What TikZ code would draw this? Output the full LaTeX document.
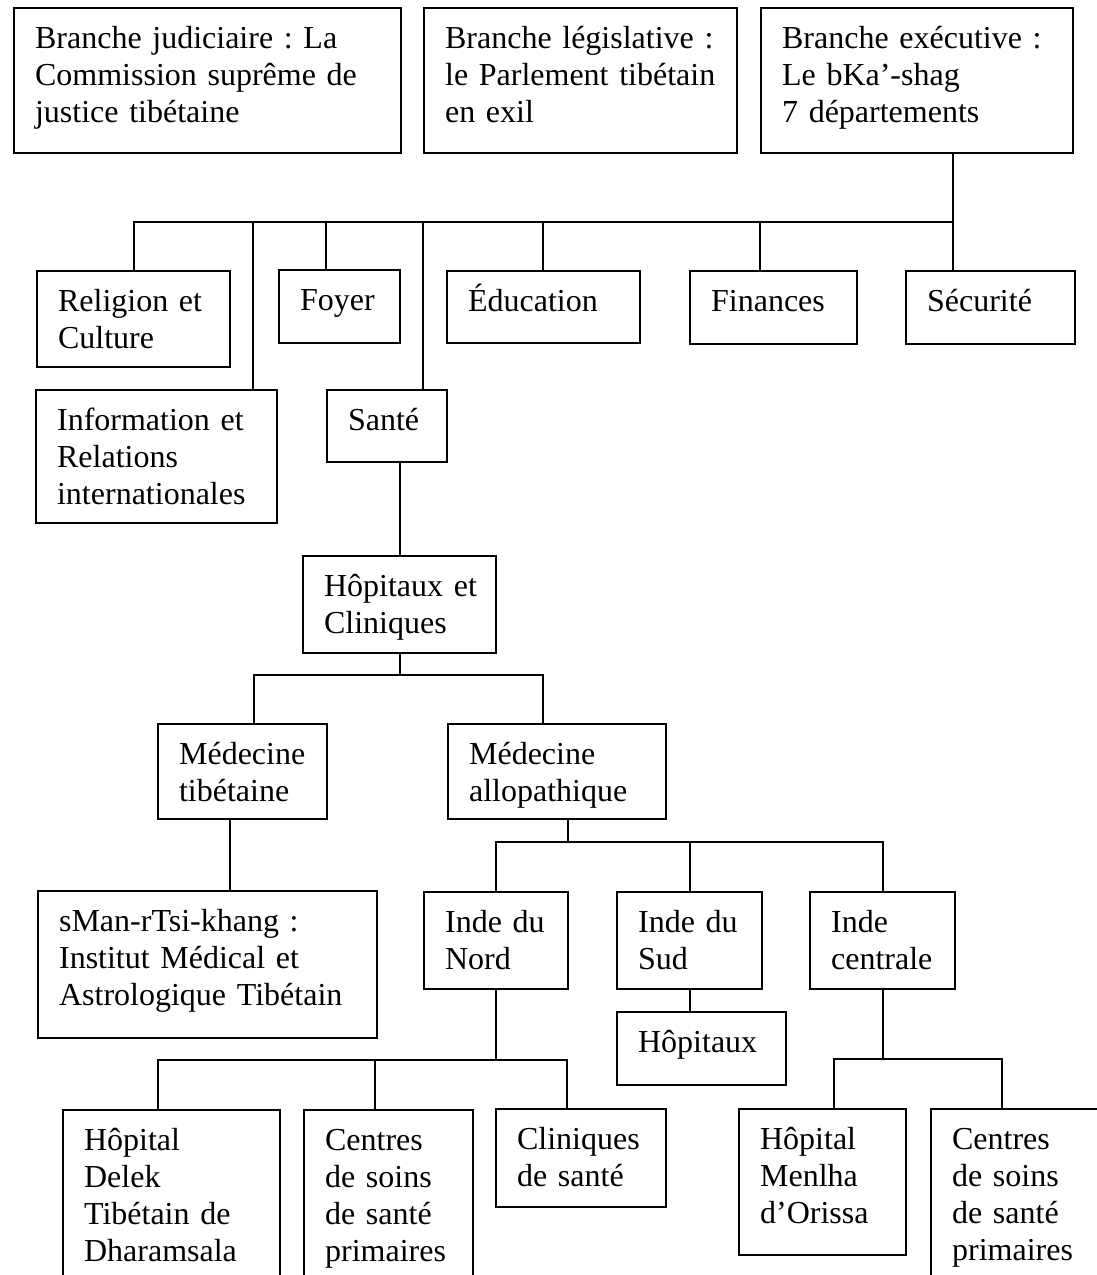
\documentclass[tikz,border=0pt]{standalone}
\usepackage{fontspec}
\setmainfont{Liberation Serif}
\usepackage{tikz}
\frenchspacing

\begin{document}
\begin{tikzpicture}[x=0.5pt,y=-0.5pt,
        cadre/.style 2 args={draw=black,line width=1.1pt,inner sep=0pt,anchor=north west,
            minimum width=#1*0.5pt,minimum height=#2*0.5pt,text width=#1*0.5pt,align=left,
            text height=20pt,text depth={#2*0.5pt-20pt},
            font=\fontsize{16}{18.5}\selectfont,execute at begin node={\leftskip=10.5pt}},
        trait/.style={draw=black,line width=0.9pt}]

        \useasboundingbox (0,0) rectangle (1097,1275);
        \clip (0,0) rectangle (1097,1275);

        % les trois branches
        \node[cadre={387}{145}] (judiciaire) at (13, 7) {Branche judiciaire : La\\Commission suprême de\\justice tibétaine};
        \node[cadre={313}{145}] (legislative) at (423, 7) {Branche législative :\\le Parlement tibétain\\en exil};
        \node[cadre={312}{145}] (executive) at (760, 7) {Branche exécutive :\\Le bKa'-shag\\7 départements};

        % les 7 departements
        \node[cadre={193}{96}] (religion) at (36, 270) {Religion et\\Culture};
        \node[cadre={121}{73}] (foyer) at (278, 269) {Foyer};
        \node[cadre={193}{72}] (education) at (446, 270) {Éducation};
        \node[cadre={167}{73}] (finances) at (689, 270) {Finances};
        \node[cadre={169}{73}] (securite) at (905, 270) {Sécurité};
        \node[cadre={241}{133}] (information) at (35, 389) {Information et\\Relations\\internationales};
        \node[cadre={120}{72}] (sante) at (326, 389) {Santé};

        % sante
        \node[cadre={193}{97}] (hopcli) at (302, 555) {Hôpitaux et\\Cliniques};
        \node[cadre={169}{95}] (medtib) at (157, 723) {Médecine\\tibétaine};
        \node[cadre={218}{95}] (medallo) at (447, 723) {Médecine\\allopathique};
        \node[cadre={339}{147}] (smanrtsi) at (37, 890) {sMan-rTsi-khang :\\Institut Médical et\\Astrologique Tibétain};
        \node[cadre={144}{97}] (nord) at (423, 891) {Inde du\\Nord};
        \node[cadre={145}{97}] (sud) at (616, 891) {Inde du\\Sud};
        \node[cadre={145}{97}] (centrale) at (809, 891) {Inde\\centrale};
        \node[cadre={169}{73}] (hopitaux) at (616, 1011) {Hôpitaux};

        % etablissements
        \node[cadre={217}{180}] (delek) at (62, 1109) {Hôpital\\Delek\\Tibétain de\\Dharamsala};
        \node[cadre={169}{180}] (centresnord) at (303, 1109) {Centres\\de soins\\de santé\\primaires};
        \node[cadre={170}{98}] (cliniques) at (495, 1108) {Cliniques\\de santé};
        \node[cadre={167}{146}] (menlha) at (738, 1108) {Hôpital\\Menlha\\d'Orissa};
        \node[cadre={180}{180}] (centrescentre) at (930, 1108) {Centres\\de soins\\de santé\\primaires};

        \coordinate (b1) at (953, 222);
        \coordinate (b2) at (hopcli.south |- 0,675);
        \coordinate (b3) at (568, 842);
        \coordinate (b4) at (nord.south |- 0,1060);
        \coordinate (b5) at (centrale.south |- 0,1059);

        \path[trait] (executive.south -| b1) -- (securite.north -| b1);
        \path[trait] (b1) -| (religion.north);
        \path[trait] (b1) -| (information.north -| 253,0);
        \path[trait] (b1) -| (foyer.north -| 326,0);
        \path[trait] (b1) -| (sante.north -| 423,0);
        \path[trait] (b1) -| (education.north -| 543,0);
        \path[trait] (b1) -| (finances.north -| 760,0);

        \path[trait] (sante.south -| hopcli.north) -- (hopcli.north);
        \path[trait] (hopcli.south) -- (b2);
        \path[trait] (b2) -| (medtib.north -| 254,0);
        \path[trait] (b2) -| (medallo.north -| 543,0);

        \path[trait] (medtib.south -| 230,0) -- (smanrtsi.north -| 230,0);
        \path[trait] (medallo.south -| b3) -- (b3);
        \path[trait] (b3) -| (nord.north);
        \path[trait] (b3) -| (sud.north);
        \path[trait] (b3) -| (centrale.north);

        \path[trait] (sud.south) -- (hopitaux.north -| sud.south);
        \path[trait] (nord.south) -- (b4);
        \path[trait] (b4) -| (delek.north -| 158,0);
        \path[trait] (b4) -| (centresnord.north -| 375,0);
        \path[trait] (b4) -| (cliniques.north -| 567,0);
        \path[trait] (centrale.south) -- (b5);
        \path[trait] (b5) -| (menlha.north -| 834,0);
        \path[trait] (b5) -| (centrescentre.north -| 1002,0);

    \end{tikzpicture}
\end{document}
